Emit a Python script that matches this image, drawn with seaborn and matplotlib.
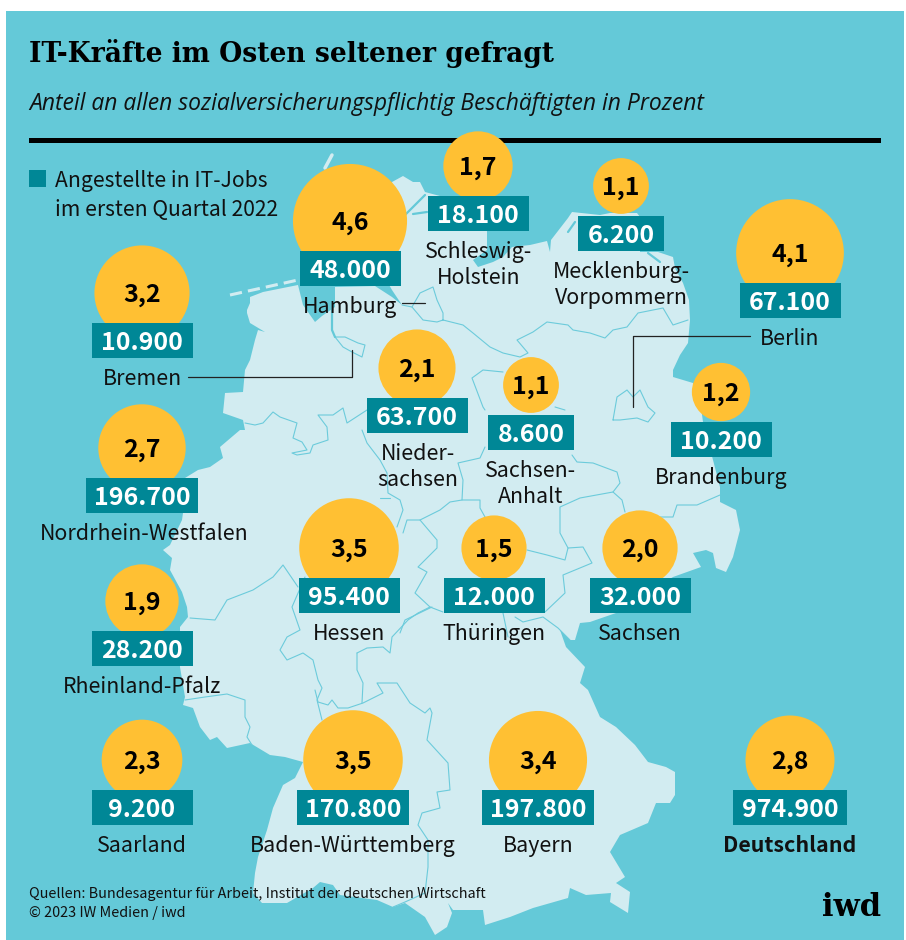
"""Bubble map: share of IT workers among employees per German state, Q1 2022."""

import pandas as pd
import matplotlib.pyplot as plt
from matplotlib.patches import Rectangle
import seaborn as sns

# Data
states = ["Hamburg", "Schleswig-\nHolstein", "Mecklenburg-\nVorpommern", "Berlin", "Bremen",
          "Nieder-\nsachsen", "Sachsen-\nAnhalt", "Brandenburg", "Nordrhein-Westfalen", "Hessen",
          "Thüringen", "Sachsen", "Rheinland-Pfalz", "Saarland", "Baden-Württemberg", "Bayern",
          "Deutschland"]
it_share = [4.6, 1.7, 1.1, 4.1, 3.2, 2.1, 1.1, 1.2, 2.7, 3.5, 1.5, 2.0, 1.9, 2.3, 3.5, 3.4, 2.8]
it_jobs = [48000, 18100, 6200, 67100, 10900, 63700, 8600, 10200, 196700, 95400, 12000, 32000,
           28200, 9200, 170800, 197800, 974900]

# Layout on the page, in pixels
bubble_x = [350, 478, 621, 790, 142, 417, 531, 721, 142, 349, 494, 640, 142, 142, 353, 538, 790]
bubble_y = [221, 166, 186, 253, 293, 368, 385, 392, 448, 548, 548, 548, 601, 760, 760, 760, 760]
box_w = [101, 101, 86, 101, 101, 101, 86, 101, 112, 101, 101, 101, 101, 101, 112, 112, 114]
label_dx = [0, 1, 0, 0, 0, 1, 0, 0, 2, 0, 0, 0, 0, 0, 0, 0, 0]

SEA = "#64C9D8"
LAND = "#D2ECF1"
BORDER = "#6CCBDB"
YELLOW = "#FFC033"
TEAL = "#008796"
SANS = "Noto Sans CJK JP"
PX = 0.72  # points per pixel at dpi 100

land = [(392, 182), (403, 176), (413, 182), (420, 182), (425, 192), (440, 196), (486, 196),
        (487, 232), (487, 250), (473, 260), (478, 267), (493, 262), (503, 257), (512, 247),
        (530, 245), (547, 241), (550, 252), (551, 240), (568, 218), (572, 212), (600, 215),
        (610, 213), (637, 213), (640, 217), (640, 252), (658, 252), (673, 257), (675, 268),
        (683, 283), (689, 300), (690, 320), (688, 343), (680, 355), (673, 370), (673, 377),
        (693, 383), (700, 400), (703, 422), (713, 460), (720, 487), (720, 502), (736, 510),
        (740, 530), (733, 557), (726, 572), (716, 568), (713, 553), (706, 550), (693, 553),
        (701, 567), (673, 577), (660, 585), (640, 610), (616, 613), (590, 622), (580, 623),
        (575, 640), (570, 640), (560, 630), (566, 647), (585, 667), (580, 683), (588, 690),
        (600, 717), (616, 727), (635, 745), (648, 762), (666, 767), (675, 772), (675, 795),
        (670, 803), (656, 803), (648, 823), (620, 835), (610, 852), (625, 877), (616, 883),
        (630, 892), (628, 913), (610, 902), (611, 893), (586, 895), (570, 888), (568, 898),
        (533, 908), (510, 917), (485, 925), (483, 910), (453, 910), (448, 903), (452, 913),
        (447, 927), (435, 935), (425, 917), (405, 903), (393, 907), (377, 900), (340, 895),
        (333, 885), (320, 882), (313, 888), (287, 903), (262, 903), (253, 893), (255, 873),
        (258, 857), (267, 830), (273, 808), (283, 785), (295, 778), (303, 762), (285, 757),
        (270, 755), (250, 743), (227, 748), (217, 737), (210, 740), (200, 727), (193, 708),
        (183, 705), (185, 697), (180, 667), (180, 627), (188, 617), (187, 607), (182, 592),
        (170, 570), (172, 558), (163, 550), (170, 545), (182, 520), (183, 513), (185, 478),
        (198, 470), (210, 467), (223, 458), (220, 447), (240, 430), (245, 430), (243, 420),
        (223, 413), (225, 393), (243, 392), (245, 370), (250, 360), (255, 340), (258, 330),
        (265, 332), (250, 323), (247, 313), (247, 310), (250, 303), (250, 297), (263, 292),
        (298, 285), (303, 305), (315, 322), (322, 316), (335, 307), (335, 287), (375, 286),
        (392, 297), (402, 305), (392, 290), (388, 283), (375, 260), (385, 215)]

state_borders = [
    # Nordrhein-Westfalen north and east
    [(245, 423), (255, 425), (263, 423), (273, 412), (280, 417), (297, 423), (293, 438),
     (302, 442), (307, 450), (292, 453), (297, 455), (310, 453), (313, 445), (328, 440),
     (327, 427), (318, 415), (333, 415), (343, 408), (347, 423), (367, 410)],
    [(362, 430), (367, 443), (380, 460), (387, 473), (388, 493), (400, 500), (403, 510),
     (397, 527)],
    [(380, 498), (390, 498)],
    [(190, 618), (215, 620), (227, 600), (253, 590), (273, 577), (283, 565), (298, 587)],
    # Hessen
    [(305, 577), (292, 607), (300, 630), (287, 637), (280, 650), (287, 660), (303, 653),
     (313, 660), (318, 680), (322, 688), (317, 700), (322, 720)],
    [(357, 653), (367, 648), (383, 647), (390, 653), (392, 637), (408, 620), (418, 613),
     (430, 607), (443, 612)],
    [(430, 607), (415, 593), (427, 572), (418, 567), (437, 548), (437, 540), (420, 520),
     (407, 520), (403, 533)],
    [(357, 653), (357, 670), (363, 683), (362, 703)],
    # Baden-Wuerttemberg and Bayern
    [(315, 690), (318, 702), (328, 705), (332, 700), (338, 708), (348, 708), (363, 703),
     (383, 693), (377, 683), (397, 683), (410, 703), (425, 713), (430, 708), (432, 713),
     (427, 740), (448, 763), (450, 790), (437, 792), (440, 808), (422, 813), (418, 825),
     (428, 840), (428, 867), (425, 893), (405, 902), (393, 907)],
    # Saarland
    [(185, 700), (205, 697), (227, 694), (245, 700), (245, 717), (250, 727), (247, 737),
     (252, 745)],
    [(400, 633), (405, 620), (432, 607)],
    # Thueringen, Sachsen-Anhalt, Sachsen
    [(420, 520), (440, 510), (450, 502), (462, 500), (480, 500), (480, 508), (485, 517)],
    [(527, 550), (547, 555), (565, 560), (568, 548), (583, 547), (592, 563), (563, 575),
     (565, 593), (545, 612)],
    [(568, 548), (560, 533), (560, 507), (580, 498), (613, 492), (622, 500), (625, 512)],
    [(613, 492), (620, 483), (617, 472), (593, 463), (577, 462), (572, 455)],
    [(462, 500), (463, 480), (458, 463), (480, 458), (485, 447)],
    [(485, 410), (483, 407), (472, 378), (483, 370), (503, 372)],
    [(555, 407), (565, 410)],
    [(660, 517), (673, 517), (677, 505), (697, 505), (720, 495)],
    [(503, 613), (508, 637)],
    [(515, 617), (523, 622), (543, 617), (558, 628), (570, 640)],
    # Hamburg ring and the north
    [(443, 320), (437, 322), (423, 320), (412, 307), (420, 293), (433, 287), (437, 300),
     (443, 313), (443, 320), (463, 325), (473, 333), (490, 347), (503, 353), (520, 357),
     (528, 353), (517, 340), (533, 332), (547, 322), (568, 325), (573, 330), (590, 333),
     (605, 338), (613, 330), (627, 327), (638, 313), (663, 308), (673, 325), (688, 320)],
    [(402, 305), (412, 307)],
    # Bremen
    [(335, 337), (345, 337), (358, 343), (365, 345), (362, 357), (352, 352), (343, 347),
     (335, 337)],
    # Berlin
    [(613, 420), (617, 397), (627, 390), (633, 397), (640, 390), (648, 407), (655, 413),
     (648, 422), (637, 418), (620, 420), (613, 420)],
]
sea_inlets = [[(405, 215), (425, 195)], [(413, 214), (427, 212)],
              [(332, 307), (332, 330), (335, 337)], [(568, 232), (575, 222)],
              [(648, 253), (660, 262)]]

sns.set_theme(style="white")

df = pd.DataFrame({"state": states, "share": it_share, "jobs": it_jobs,
                   "x": bubble_x, "y": bubble_y, "box_w": box_w, "label_dx": label_dx})

fig = plt.figure(figsize=(9.06, 9.40), dpi=100, facecolor="white")
ax = fig.add_axes([0, 0, 1, 1])
ax.set_xlim(0, 906)
ax.set_ylim(940, 0)
ax.axis("off")

# Background and map
ax.add_patch(Rectangle((6, 11), 898, 929, color=SEA, lw=0, zorder=0))
ax.fill(*zip(*land), color=LAND, lw=0, zorder=1)
ax.plot([332, 325], [155, 168], color=LAND, lw=2.5, zorder=1)
ax.plot([230, 298], [295, 280], color=LAND, lw=2.2, ls=(0, (4, 2)), zorder=1)
for line in state_borders:
    ax.plot(*zip(*line), color=BORDER, lw=0.8, zorder=2)
for line in sea_inlets:
    ax.plot(*zip(*line), color=SEA, lw=1.6, zorder=2)

# Leader lines
for xs, ys in [([402, 425], [303, 303]), ([188, 352, 352], [377, 377, 350]),
               ([750, 633, 633], [336, 336, 407])]:
    ax.plot(xs, ys, color="#222222", lw=0.9, zorder=3)

# Rule under the header
ax.add_patch(Rectangle((29, 138), 852, 5, color="black", lw=0, zorder=3))

# Bubbles: area follows the share
area_per_point = (2 * 26.6 * PX) ** 2
sns.scatterplot(data=df, x="x", y="y", size="share", ax=ax, legend=False, color=YELLOW,
                sizes=(min(it_share) * area_per_point, max(it_share) * area_per_point),
                size_norm=(min(it_share), max(it_share)), linewidth=0, alpha=1, zorder=4)
ax.set_xlim(0, 906)
ax.set_ylim(940, 0)
ax.axis("off")

for row in df.itertuples():
    top = row.y + 30
    ax.add_patch(Rectangle((row.x - row.box_w / 2, top), row.box_w, 35, color=TEAL, lw=0, zorder=5))
    ax.text(row.x, row.y + 9, f"{row.share:.1f}".replace(".", ","), ha="center", va="baseline",
            family=SANS, weight="bold", fontsize=18, color="black", zorder=6)
    ax.text(row.x, top + 27, f"{row.jobs:,}".replace(",", "."), ha="center", va="baseline",
            family=SANS, weight="bold", fontsize=18, color="white", zorder=6)
    for i, part in enumerate(row.state.split("\n")):
        ax.text(row.x + row.label_dx, top + 62 + i * 26, part, ha="center", va="baseline",
                family=SANS, weight="bold" if row.state == "Deutschland" else "normal",
                fontsize=15.4, color="#111111", zorder=6)

# Header, legend, footer
ax.text(29, 62, "IT-Kräfte im Osten seltener gefragt", family="DejaVu Serif", weight="bold",
        fontsize=19.1, color="black", va="baseline", zorder=6)
ax.text(29, 110, "Anteil an allen sozialversicherungspflichtig Beschäftigten in Prozent",
        family="Open Sans", style="italic", fontsize=16.5, color="#111111", va="baseline", zorder=6)
ax.add_patch(Rectangle((29, 170), 17, 17, color=TEAL, lw=0, zorder=6))
ax.text(55, 187, "Angestellte in IT-Jobs", family=SANS, fontsize=15.2, color="#111111",
        va="baseline", zorder=6)
ax.text(55, 216, "im ersten Quartal 2022", family=SANS, fontsize=15.2, color="#111111",
        va="baseline", zorder=6)
ax.text(29, 898, "Quellen: Bundesagentur für Arbeit, Institut der deutschen Wirtschaft",
        family=SANS, fontsize=10.35, color="#111111", va="baseline", zorder=6)
ax.text(29, 917, "© 2023 IW Medien / iwd", family=SANS, fontsize=10.35, color="#111111",
        va="baseline", zorder=6)
ax.text(881, 916, "iwd", family="DejaVu Serif", weight="bold", fontsize=22, color="black",
        ha="right", va="baseline", zorder=6)

fig.savefig("out.png", dpi=100, facecolor="white")
